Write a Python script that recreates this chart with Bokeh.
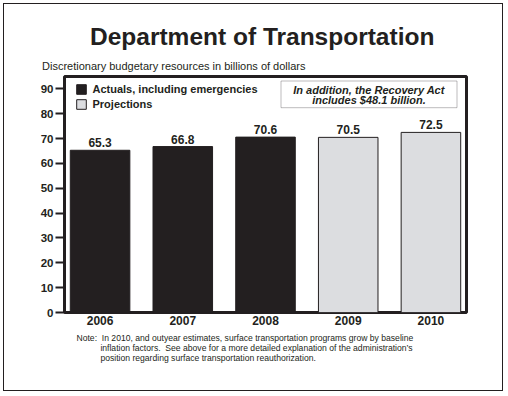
from bokeh.plotting import figure
from bokeh.layouts import column
from bokeh.models import (Range1d, FixedTicker, Label, LabelSet, ColumnDataSource,
                          Legend, LegendItem, BoxAnnotation, Title)
from bokeh.core.properties import value
from bokeh.embed import file_html
from bokeh.resources import INLINE

# ---------------- data ----------------
years = ["2006", "2007", "2008", "2009", "2010"]
values = [65.3, 66.8, 70.6, 70.5, 72.5]
kinds = ["Actuals, including emergencies"] * 3 + ["Projections"] * 2
y_ticks = [0, 10, 20, 30, 40, 50, 60, 70, 80, 90]

title_text = "Department of Transportation"
subtitle_text = "Discretionary budgetary resources in billions of dollars"
callout_lines = ["In addition, the Recovery Act", "includes $48.1 billion."]
note_lines = [
    "Note:\u00a0\u00a0In 2010, and outyear estimates, surface transportation programs grow by baseline",
    "\u00a0" * 10 + "inflation factors.\u00a0 See above for a more detailed explanation of the administration\u2019s",
    "\u00a0" * 10 + "position regarding surface transportation reauthorization.",
]

# ---------------- style ----------------
INK = "#231f20"
GREY = "#dcdde0"
FONT = "Liberation Sans"

W, H = 498, 386
p = figure(width=W, height=H, output_backend="svg", toolbar_location=None,
           x_range=Range1d(-0.43, 4.43), y_range=Range1d(0, 95),
           min_border_left=60, min_border_right=36, min_border_top=72, min_border_bottom=78,
           background_fill_color="white", border_fill_color="white")

idx = list(range(len(years)))
act = [i for i in idx if kinds[i] == kinds[0]]
proj = [i for i in idx if kinds[i] != kinds[0]]

def src(ids):
    return ColumnDataSource(dict(
        x=ids,
        top=[values[i] for i in ids],
        label=[f"{values[i]:.1f}" for i in ids],
    ))

src_a, src_p = src(act), src(proj)

r_a = p.vbar(x="x", top="top", width=0.72, source=src_a,
             fill_color=INK, line_color=INK, line_width=1)
r_p = p.vbar(x="x", top="top", width=0.72, source=src_p,
             fill_color=GREY, line_color=INK, line_width=1)

for s in (src_a, src_p):
    p.add_layout(LabelSet(x="x", y="top", text="label", source=s, y_offset=3,
                          text_align="center", text_baseline="alphabetic",
                          text_font=value(FONT), text_font_size="12px",
                          text_font_style="bold", text_color=INK))

# axes
p.xgrid.visible = False
p.ygrid.visible = False
p.outline_line_color = INK
p.outline_line_width = 3
p.outline_line_alpha = 1

p.xaxis.ticker = FixedTicker(ticks=idx)
p.xaxis.major_label_overrides = {i: y for i, y in zip(idx, years)}
p.xaxis.major_tick_out = 0
p.xaxis.major_tick_in = 0
p.xaxis.minor_tick_out = 0
p.xaxis.axis_line_alpha = 0
p.xaxis.major_label_standoff = 3
p.xaxis.major_label_text_font = FONT
p.xaxis.major_label_text_font_size = "12px"
p.xaxis.major_label_text_font_style = "bold"
p.xaxis.major_label_text_color = INK

p.yaxis.ticker = FixedTicker(ticks=y_ticks)
p.yaxis.major_tick_out = 9
p.yaxis.major_tick_in = 0
p.yaxis.minor_tick_out = 0
p.yaxis.minor_tick_in = 0
p.yaxis.major_tick_line_width = 2
p.yaxis.major_tick_line_color = INK
p.yaxis.axis_line_alpha = 0
p.yaxis.major_label_standoff = 2
p.yaxis.major_label_text_font = FONT
p.yaxis.major_label_text_font_size = "11.5px"
p.yaxis.major_label_text_font_style = "bold"
p.yaxis.major_label_text_color = INK

# legend
legend = Legend(items=[LegendItem(label=kinds[0], renderers=[r_a]),
                       LegendItem(label=kinds[-1], renderers=[r_p])],
                location=(10.5, 202), padding=0, margin=0, spacing=2,
                glyph_width=12, glyph_height=12, label_height=13, label_standoff=6,
                border_line_alpha=0, background_fill_alpha=0,
                label_text_font=FONT, label_text_font_size="11px",
                label_text_font_style="bold", label_text_color=INK)
p.add_layout(legend)

# callout box
p.add_layout(BoxAnnotation(left=216.5, right=392.5, bottom=204.8, top=231.5,
                           left_units="screen", right_units="screen",
                           bottom_units="screen", top_units="screen",
                           fill_color="white", fill_alpha=1, line_color=INK, line_width=1))
for line, yy in zip(callout_lines, [222.2, 212.2]):
    p.add_layout(Label(x=304.5, y=yy, x_units="screen", y_units="screen", text=line,
                       text_align="center", text_baseline="alphabetic",
                       text_font=FONT, text_font_size="11px", text_font_style="bold italic",
                       text_color=INK))

# subtitle (closest to plot) then title
p.add_layout(Title(text=subtitle_text, align="left", offset=-22.5, standoff=9,
                   text_font=FONT, text_font_size="11px", text_font_style="normal",
                   text_color=INK), "above")
p.add_layout(Title(text=title_text, align="left", offset=25.5, standoff=8,
                   text_font=FONT, text_font_size="24.5px", text_font_style="bold",
                   text_color=INK), "above")

# note below the axis
p.add_layout(Title(text="\n".join(note_lines), align="left", offset=12, standoff=6,
                   text_font=FONT, text_font_size="8.6px", text_font_style="normal",
                   text_line_height=1.0, text_color=INK), "below")

root = column(p, margin=(3, 3, 3, 3), styles={"border": "1.5px solid #231f20"})

open("out.html", "w").write(file_html(root, INLINE))
